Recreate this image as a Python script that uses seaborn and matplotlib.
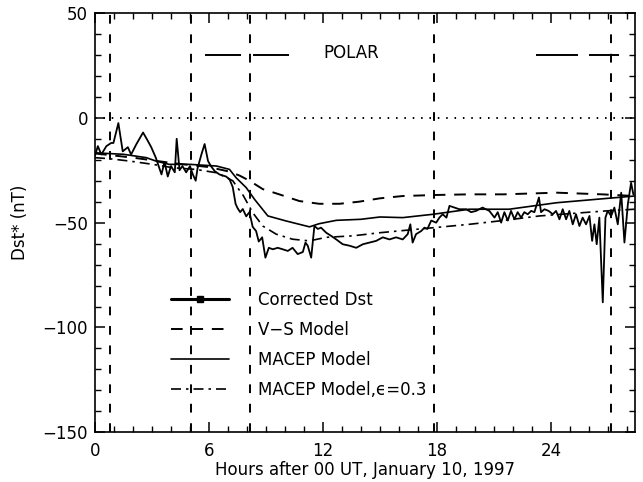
import numpy as np
import pandas as pd
import matplotlib
matplotlib.use("Agg")
import matplotlib.pyplot as plt
from matplotlib.lines import Line2D
import seaborn as sns

# ---------------- data ----------------
dst_hours = [0, 0.15, 0.33, 0.6, 0.85, 0.97, 1.23, 1.46, 1.73, 1.9,
             2.17, 2.53, 2.78, 2.96, 3.2, 3.5, 3.66, 3.83, 4.0, 4.2,
             4.3, 4.45, 4.6, 4.8, 5.0, 5.15, 5.3, 5.4, 5.6, 5.77,
             5.95, 6.1, 6.3, 6.55, 6.9, 7.08, 7.25, 7.4, 7.5, 7.64,
             7.78, 7.96, 8.13, 8.3, 8.48, 8.62, 8.8, 8.97, 9.15, 9.36,
             9.62, 9.88, 10.15, 10.4, 10.67, 10.94, 11.08, 11.2, 11.38, 11.55,
             11.73, 11.9, 12.17, 12.43, 12.7, 13.04, 13.4, 13.75, 14.1, 14.45,
             14.8, 15.15, 15.5, 15.85, 16.2, 16.46, 16.6, 16.72, 16.9, 17.17,
             17.34, 17.5, 17.7, 17.96, 18.13, 18.3, 18.5, 18.66, 18.92, 19.18,
             19.54, 19.8, 20.06, 20.4, 20.76, 21.03, 21.2, 21.38, 21.55, 21.73,
             21.9, 22.08, 22.25, 22.43, 22.6, 22.78, 22.96, 23.13, 23.37, 23.48,
             23.66, 23.88, 24.1, 24.27, 24.45, 24.62, 24.8, 24.97, 25.15, 25.32,
             25.5, 25.67, 25.85, 26.03, 26.17, 26.29, 26.41, 26.55, 26.73, 26.87,
             26.99, 27.17, 27.34, 27.52, 27.7, 27.87, 28.05, 28.22, 28.34]
dst_values = [-18, -13.5, -17.5, -13.5, -12, -12, -2.5, -16, -14, -17.5,
              -12.7, -7, -11, -14, -19, -27, -21, -28, -23, -26,
              -10, -25, -23, -26, -23, -27, -30, -24, -17.5, -12.5,
              -20.6, -23, -25.4, -27, -28, -29.3, -33, -41, -43, -45,
              -43.5, -47, -45, -52, -54, -59, -57, -66.7, -62, -62.7,
              -62, -62.7, -63.5, -62, -65, -64, -59.5, -61, -66.7, -51.6,
              -53, -52.4, -54.8, -56.3, -58, -60.3, -61, -62, -60.3, -59.5,
              -58.7, -57, -58, -57, -58, -55.5, -50.8, -59.5, -55.5, -54,
              -52.4, -53, -49, -50, -47.6, -46, -47.6, -42, -42.8, -43.6,
              -43.6, -45, -44.4, -42.8, -44.4, -47.6, -45, -50, -45, -49,
              -44.4, -48.4, -45, -47.6, -45, -46, -44.4, -45, -38, -45,
              -43.6, -44.4, -46, -44.4, -48.4, -43.6, -48.4, -44.4, -50.8, -46,
              -51.6, -47.6, -50.8, -46.8, -58.7, -50.8, -60.3, -47.6, -88, -47.6,
              -44.4, -46.8, -42.8, -50.8, -35.7, -59.5, -41.2, -31, -36.5]

vs_hours = [0, 2, 4, 6, 7, 7.6, 8.13, 8.83, 9.7, 10.76, 11.8, 12.87, 13.9,
            15.0, 16.2, 17.96, 19.7, 21.5, 24.3, 26.7, 28.4]
vs_values = [-17, -19, -21.5, -23.5, -25.5, -27.5, -30, -34, -36.5, -39.7, -41,
             -41, -40, -38.4, -37.3, -36.8, -36.5, -36.5, -35.7, -36.5, -37.3]

macep_hours = [0, 1.5, 2.7, 3.2, 3.9, 5.0, 6.4, 7.08, 7.43, 7.96, 8.4, 9.1,
               10.06, 11.29, 11.8, 12.7, 14.0, 15.0, 16.2, 17.8, 19.7, 21.8,
               24.3, 28.4]
macep_values = [-16.7, -17.4, -19, -20.6, -22.2, -22.2, -23, -24.6, -28.6,
                -33.3, -38.9, -46.8, -49.2, -52, -50.5, -48.9, -48.4, -47.3,
                -47.6, -46, -43.6, -43.6, -40.5, -37.3]

eps_hours = [0, 0.76, 1.8, 3.05, 4.1, 5.3, 6.4, 7.25, 7.6, 7.8, 8.3, 8.83,
             9.54, 10.4, 11.29, 12.17, 13.57, 15.0, 17.83, 19.7, 21.46, 23.4,
             26.9, 28.4]
eps_values = [-19, -19.5, -20.6, -22.2, -23.8, -24.6, -26.2, -30, -34.5, -37,
              -45.2, -51.6, -55.5, -57.9, -58.7, -57, -56.3, -54.8, -52.4,
              -50.8, -49, -46.8, -44.4, -43.6]

event_hours = [0.8, 5.07, 8.14, 17.83, 27.17]
polar_start = [5.77, 8.3, 23.2, 26.0]
polar_end = [7.71, 10.2, 25.4, 27.6]
polar_level = 30

series_labels = ["Corrected Dst", "V\u2212S Model", "MACEP Model",
                 "MACEP Model,\u03f5=0.3"]
x_ticks = [0, 6, 12, 18, 24]
y_ticks = [-150, -100, -50, 0, 50]

# ---------------- style ----------------
sns.set_style("ticks")
plt.rcParams["font.family"] = ["DejaVu Sans"]
plt.rcParams["axes.linewidth"] = 1.2
for key in ["text.color", "axes.labelcolor", "xtick.color", "ytick.color", "axes.edgecolor"]:
    plt.rcParams[key] = "black"

fig = plt.figure(figsize=(6.43, 4.82), dpi=100)
ax = fig.add_axes([95 / 643, 1 - 432.3 / 482, (634.5 - 95) / 643, (432.3 - 13) / 482])

dst_df = pd.DataFrame({"h": dst_hours, "v": dst_values})
vs_df = pd.DataFrame({"h": vs_hours, "v": vs_values})
macep_df = pd.DataFrame({"h": macep_hours, "v": macep_values})
eps_df = pd.DataFrame({"h": eps_hours, "v": eps_values})

dst_style = dict(color="black", lw=1.3, linestyle="-")
vs_style = dict(color="black", lw=1.4, linestyle=(0, (6, 4.5)))
macep_style = dict(color="black", lw=1.2, linestyle="-")
eps_style = dict(color="black", lw=1.2, linestyle=(0, (6, 3, 1.5, 3)))

sns.lineplot(data=vs_df, x="h", y="v", ax=ax, estimator=None, sort=False, **vs_style)
sns.lineplot(data=eps_df, x="h", y="v", ax=ax, estimator=None, sort=False, **eps_style)
sns.lineplot(data=macep_df, x="h", y="v", ax=ax, estimator=None, sort=False, **macep_style)
sns.lineplot(data=dst_df, x="h", y="v", ax=ax, estimator=None, sort=False, **dst_style)

# vertical event lines, zero line, POLAR segments
for h in event_hours:
    ax.axvline(h, color="black", lw=1.4, linestyle=(0, (4.5, 5.5)))
ax.axhline(0, color="black", lw=1.4, linestyle=(0, (0.8, 3.5)))
ax.hlines([polar_level] * len(polar_start), polar_start, polar_end, color="black", lw=1.4)
ax.text(13.5, polar_level + 1, "POLAR", ha="center", va="center", fontsize=12)

ax.set_xlim(0, 28.4)
ax.set_ylim(-150, 50)
ax.set_xticks(x_ticks)
ax.set_yticks(y_ticks)
ax.set_xticks(np.arange(0, 28.5, 1), minor=True)
ax.set_yticks(np.arange(-150, 51, 10), minor=True)
ax.tick_params(which="both", direction="in", top=True, right=True, labelsize=12,
               colors="black")
ax.tick_params(axis="x", which="major", length=7, width=1.1, pad=7)
ax.tick_params(axis="y", which="major", length=7, width=1.1, pad=5)
ax.tick_params(which="minor", length=4, width=1.0)
for s in ax.spines.values():
    s.set_visible(True)
    s.set_color("black")

ax.set_xlabel("Hours after 00 UT, January 10, 1997", fontsize=12, labelpad=1)
ax.set_ylabel("Dst* (nT)", fontsize=12, labelpad=10)

handles = [
    Line2D([], [], marker="s", markersize=4, **{**dst_style, "lw": 2.2}),
    Line2D([], [], **vs_style),
    Line2D([], [], **macep_style),
    Line2D([], [], **eps_style),
]
ax.legend(handles, series_labels, loc="upper left", bbox_to_anchor=(4.0, -82.5),
          bbox_transform=ax.transData, frameon=False, fontsize=12,
          borderpad=0, borderaxespad=0, handlelength=3.5, handletextpad=1.7,
          labelspacing=0.72, numpoints=1)

fig.savefig("out.png", dpi=100)
